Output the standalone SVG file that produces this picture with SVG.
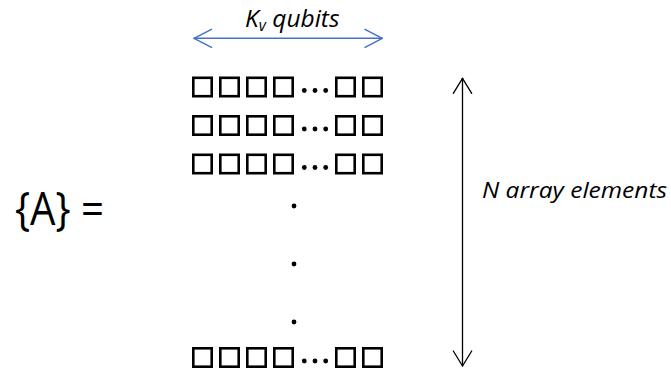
<svg xmlns="http://www.w3.org/2000/svg" width="671" height="370" viewBox="0 0 671 370">
<defs>
<style>
.sq{fill:none;stroke:#000;stroke-width:2.6}
.d{fill:#000}
.t{font-family:"Open Sans","Liberation Sans",sans-serif;fill:#000}
.it{font-style:italic}
</style>
<g id="row">
<rect class="sq" x="193.3" y="1.3" width="18.4" height="18.4"/>
<rect class="sq" x="220.3" y="1.3" width="18.4" height="18.4"/>
<rect class="sq" x="247.3" y="1.3" width="18.4" height="18.4"/>
<rect class="sq" x="274.3" y="1.3" width="18.4" height="18.4"/>
<circle class="d" cx="304.3" cy="14" r="2.4"/>
<circle class="d" cx="315" cy="14" r="2.4"/>
<circle class="d" cx="325.7" cy="14" r="2.4"/>
<rect class="sq" x="336.3" y="1.3" width="18.4" height="18.4"/>
<rect class="sq" x="363.3" y="1.3" width="18.4" height="18.4"/>
</g>
</defs>
<rect width="671" height="370" fill="#fff"/>
<g id="label-A">
<text class="t" x="15" y="225" font-size="45" textLength="89" lengthAdjust="spacingAndGlyphs">{A} =</text>
</g>
<g id="array">
<use href="#row" y="76.5"/>
<use href="#row" y="115"/>
<use href="#row" y="153.5"/>
<circle class="d" cx="294" cy="206" r="2.4"/>
<circle class="d" cx="294" cy="264" r="2.4"/>
<circle class="d" cx="294" cy="322" r="2.4"/>
<use href="#row" y="347"/>
</g>
<g id="label-kv">
<text class="t it" x="245" y="27" font-size="24.5">K<tspan font-size="15.5" dy="4">v</tspan><tspan dy="-4" xml:space="preserve"> qubits</tspan></text>
</g>
<g id="label-n">
<text class="t it" x="482" y="197.5" font-size="22" textLength="185" lengthAdjust="spacingAndGlyphs">N array elements</text>
</g>
<g id="connectors" fill="none" stroke-linecap="round" stroke-linejoin="round">
<g stroke="#4472C4" stroke-width="1.5">
<line x1="194" y1="38.3" x2="382.3" y2="38.3"/>
<polyline points="211.5,29.3 194,38.3 211.5,47.3"/>
<polyline points="365,29.3 382.3,38.3 365,47.3"/>
</g>
<g stroke="#000" stroke-width="1.3">
<line x1="462.5" y1="78.3" x2="462.5" y2="366"/>
<polyline points="453.3,93.3 462.5,78.3 471.7,93.3"/>
<polyline points="453.3,351 462.5,366 471.7,351"/>
</g>
</g>
</svg>
